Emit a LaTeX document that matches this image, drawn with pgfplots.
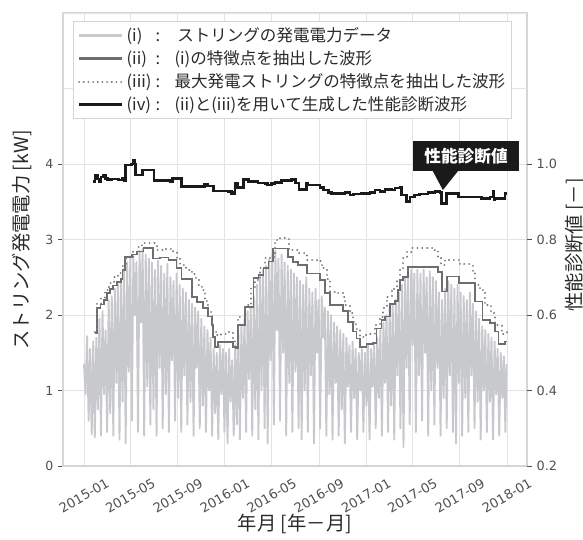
\documentclass[border=0pt]{standalone}
\usepackage{fontspec}
\setmainfont{Noto Sans CJK JP}
\newfontfamily\tickfont{DejaVu Sans}
\usepackage{pgfplots}
\pgfplotsset{compat=1.18}
\definecolor{rawgray}{HTML}{C8C9CC}
\definecolor{stepgray}{HTML}{6E6E6E}
\definecolor{dotgray}{HTML}{7A7A7A}
\definecolor{diag}{HTML}{1A1A1A}
\definecolor{gridc}{HTML}{E3E3E3}
\definecolor{spinec}{HTML}{D5D5D5}
\definecolor{tickc}{HTML}{505050}
\definecolor{labc}{HTML}{2A2A2A}
\newcommand\lgd[2]{\makebox[1.75em][l]{#1}\makebox[1.15em][l]{:}#2}
\begin{document}
\begin{tikzpicture}
\useasboundingbox (-47.25pt,-55.5pt) rectangle (390pt,349.5pt);
\begin{axis}[
  scale only axis, width=348pt, height=339.75pt,
  xmin=-54.4, xmax=1148, ymin=0, ymax=6,
  xtick={0,120,243,365,486,609,731,851,974,1096},
  xticklabels={2015-01,2015-05,2015-09,2016-01,2016-05,2016-09,2017-01,2017-05,2017-09,2018-01},
  ytick={0,1,2,3,4},
  extra y ticks={5,6}, extra y tick labels={},
  extra y tick style={grid=major, major tick length=0pt},
  grid=major, grid style={gridc, line width=0.6pt},
  axis line style={spinec, line width=0.8pt},
  tick align=outside, ytick pos=left,
  xtick style={draw=none},
  ytick style={tickc, line width=0.6pt},
  major tick length=3.75pt,
  /pgf/number format/assume math mode=true,
  yticklabel style={font=\tickfont\fontsize{9.4}{11}\selectfont, text=tickc},
  xticklabel style={font=\tickfont\fontsize{9.8}{11}\selectfont, text=tickc, rotate=30, anchor=center},
  xticklabel shift=18.5pt,
  xlabel={年月 [年－月]},
  xlabel style={at={(axis description cs:0.5,-0.128)}, anchor=center, font=\fontsize{14.5}{16}\selectfont, text=labc},
  ylabel={ストリング発電電力 [kW]},
  ylabel style={at={(axis description cs:-0.0884,0.499)}, anchor=center, font=\fontsize{14.5}{16}\selectfont, text=labc},
]
\addplot[rawgray, line width=1.4pt, line join=round] coordinates {
(0,1.35)(4,0.95)(8,1.72)(12,0.60)(16,1.55)(20,0.42)(24,1.65)(28,0.38)(32,1.70)(36,0.75)
(40,1.95)(44,0.40)(48,2.05)(52,0.95)(56,1.80)(60,0.45)(64,2.20)(68,0.70)(72,2.25)(76,0.40)
(80,2.35)(84,1.10)(88,2.40)(92,0.35)(96,2.45)(100,0.85)(104,2.60)(108,0.30)(112,2.70)(116,1.25)
(120,2.75)(124,0.60)(128,2.78)(132,2.00)(136,2.70)(140,0.45)(144,2.85)(148,1.90)(152,2.88)(156,0.40)
(160,2.80)(164,1.05)(168,2.75)(172,0.55)(176,2.70)(180,0.75)(184,2.60)(188,0.40)(192,2.72)(196,1.30)
(200,2.65)(204,0.50)(208,2.55)(212,0.95)(216,2.68)(220,0.45)(224,2.50)(228,1.40)(232,2.45)(236,0.60)
(240,2.55)(244,0.90)(248,2.40)(252,0.45)(256,2.35)(260,1.20)(264,2.30)(268,0.55)(272,2.20)(276,0.85)
(280,2.15)(284,0.40)(288,2.10)(292,1.30)(296,2.05)(300,0.50)(304,1.95)(308,0.80)(312,1.85)(316,0.45)
(320,1.80)(324,1.00)(328,1.70)(332,0.40)(336,1.55)(340,0.70)(344,1.50)(348,0.35)(352,1.60)(356,0.95)
(360,1.55)(364,0.45)(368,1.50)(372,0.30)(376,1.55)(380,0.85)(384,1.40)(388,0.40)(392,1.60)(396,0.55)
(400,1.75)(404,0.35)(408,1.85)(412,0.90)(416,1.95)(420,0.45)(424,2.05)(428,1.15)(432,2.10)(436,0.40)
(440,2.25)(444,0.75)(448,2.40)(452,0.35)(456,2.50)(460,1.00)(464,2.60)(468,0.50)(472,2.65)(476,0.30)
(480,2.75)(484,1.40)(488,2.80)(492,0.55)(496,2.85)(500,1.80)(504,2.75)(508,0.60)(512,2.80)(516,1.50)
(520,2.70)(524,0.40)(528,2.65)(532,1.10)(536,2.60)(540,0.45)(544,2.55)(548,1.25)(552,2.50)(556,0.50)
(560,2.45)(564,0.35)(568,2.40)(572,1.00)(576,2.50)(580,0.45)(584,2.35)(588,1.20)(592,2.30)(596,0.30)
(600,2.35)(604,1.50)(608,2.20)(612,0.50)(616,2.25)(620,1.70)(624,2.10)(628,0.40)(632,2.05)(636,0.95)
(640,2.00)(644,0.35)(648,1.90)(652,1.10)(656,1.85)(660,0.40)(664,1.80)(668,0.75)(672,1.75)(676,0.30)
(680,1.70)(684,1.05)(688,1.60)(692,0.45)(696,1.65)(700,0.90)(704,1.55)(708,0.35)(712,1.50)(716,1.00)
(720,1.55)(724,0.45)(728,1.50)(732,0.80)(736,1.60)(740,0.35)(744,1.55)(748,1.05)(752,1.60)(756,0.50)
(760,1.70)(764,0.90)(768,1.80)(772,0.40)(776,1.90)(780,1.10)(784,2.00)(788,0.45)(792,2.10)(796,0.80)
(800,2.15)(804,0.35)(808,2.20)(812,1.20)(816,2.30)(820,0.50)(824,2.40)(828,0.25)(832,2.50)(836,1.30)
(840,2.55)(844,0.55)(848,2.60)(852,1.60)(856,2.55)(860,0.45)(864,2.60)(868,1.20)(872,2.55)(876,0.60)
(880,2.60)(884,1.50)(888,2.50)(892,0.40)(896,2.58)(900,1.00)(904,2.50)(908,0.55)(912,2.45)(916,1.30)
(920,2.30)(924,0.40)(928,2.20)(932,0.90)(936,2.35)(940,0.50)(944,2.45)(948,1.20)(952,2.40)(956,0.45)
(960,2.35)(964,0.30)(968,2.40)(972,1.10)(976,2.30)(980,0.40)(984,2.25)(988,0.90)(992,2.20)(996,0.45)
(1000,2.30)(1004,1.20)(1008,2.15)(1012,0.50)(1016,2.05)(1020,0.85)(1024,1.95)(1028,0.35)(1032,1.85)(1036,1.00)
(1040,1.80)(1044,0.45)(1048,1.75)(1052,0.85)(1056,1.70)(1060,0.35)(1064,1.65)(1068,0.95)(1072,1.55)(1076,0.40)
(1080,1.50)(1084,0.90)(1088,1.45)(1092,0.45)(1095,1.35)
};
\addplot[stepgray, line width=1.3pt, const plot] coordinates {
(28,1.76)(34,2.09)(43,2.14)(52,2.20)(60,2.29)(67,2.34)(76,2.39)(85,2.44)(95,2.48)(100,2.60)
(106,2.77)(124,2.80)(137,2.84)(154,2.89)(178,2.75)(197,2.76)(219,2.73)(240,2.62)(253,2.48)(279,2.24)
(292,2.17)(309,2.09)(322,1.98)(331,1.87)(335,1.71)(339,1.58)(348,1.64)(387,1.58)(394,1.56)(400,1.87)
(417,2.11)(439,2.49)(452,2.53)(465,2.62)(478,2.71)(490,2.88)(529,2.77)(542,2.70)(555,2.66)(577,2.55)
(611,2.46)(624,2.29)(637,2.13)(672,2.05)(685,1.91)(698,1.78)(706,1.69)(715,1.58)(732,1.62)(749,1.63)
(758,1.82)(771,1.93)(780,1.98)(793,2.15)(806,2.19)(814,2.33)(819,2.46)(827,2.50)(840,2.64)(918,2.57)
(927,2.31)(941,2.51)(972,2.42)(1013,2.18)(1033,1.93)(1052,1.89)(1065,1.78)(1074,1.62)(1091,1.65)(1095,1.65)
};
\addplot[dotgray, line width=1.5pt, line cap=round, dash pattern=on 0.1pt off 3.6pt, const plot] coordinates {
(28,1.78)(33,2.15)(45,2.22)(55,2.33)(66,2.42)(78,2.50)(88,2.55)(100,2.65)(108,2.77)(128,2.84)
(140,2.90)(150,2.95)(188,2.86)(205,2.88)(231,2.84)(240,2.75)(250,2.66)(265,2.60)(280,2.54)(290,2.47)
(297,2.40)(305,2.33)(313,2.18)(322,2.04)(331,1.91)(335,1.78)(343,1.73)(356,1.75)(374,1.77)(387,1.69)
(391,1.62)(400,1.98)(417,2.13)(434,2.37)(443,2.46)(456,2.62)(469,2.75)(482,2.77)(495,2.99)(508,3.02)
(530,2.86)(555,2.82)(577,2.73)(603,2.71)(616,2.62)(629,2.48)(637,2.31)(650,2.29)(672,2.24)(676,2.13)
(689,2.02)(698,1.91)(706,1.82)(715,1.71)(732,1.75)(754,1.87)(767,1.98)(776,2.09)(784,2.24)(797,2.35)
(810,2.46)(819,2.62)(827,2.75)(836,2.84)(849,2.89)(909,2.86)(918,2.75)(926,2.66)(935,2.73)(974,2.67)
(1007,2.57)(1013,2.40)(1026,2.33)(1039,2.13)(1056,2.02)(1065,1.87)(1082,1.75)(1095,1.78)
};
\end{axis}
\begin{axis}[
  scale only axis, width=348pt, height=339.75pt,
  xmin=-54.4, xmax=1148, ymin=0.2, ymax=1.4,
  axis x line=none, axis y line*=right,
  axis line style={draw=none},
  ytick={0.2,0.4,0.6,0.8,1.0},
  tick align=outside, major tick length=3.75pt,
  ytick style={tickc, line width=0.6pt},
  /pgf/number format/assume math mode=true,
  yticklabel style={/pgf/number format/fixed, /pgf/number format/fixed zerofill, /pgf/number format/precision=1, font=\tickfont\fontsize{9.6}{11}\selectfont, text=tickc},
  ylabel={性能診断値 [－]},
  ylabel style={at={(axis description cs:1.1034,0.488)}, anchor=center, font=\fontsize{14.5}{16}\selectfont, text=labc},
  legend style={at={(0.0216,0.982)}, anchor=north west, draw=spinec, line width=0.8pt, fill=white,
    font=\fontsize{12.4}{14}\selectfont, text=labc, cells={anchor=west}, inner xsep=3pt, inner ysep=2.5pt,
    row sep=1.3pt},
  legend image code/.code={\draw[#1] (0pt,0pt) -- (32.6pt,0pt);},
]
\addlegendimage{rawgray, line width=2.2pt}
\addlegendentry{\lgd{(i)}{\,ストリングの発電電力データ}}
\addlegendimage{stepgray, line width=2pt}
\addlegendentry{\lgd{(ii)}{(i)の特徴点を抽出した波形}}
\addlegendimage{dotgray, line width=1.5pt, line cap=round, dash pattern=on 0.1pt off 3.4pt}
\addlegendentry{\lgd{(iii)}{最大発電ストリングの特徴点を抽出した波形}}
\addplot[diag, line width=1.9pt, const plot] coordinates {
(24,0.953)(29,0.971)(35,0.960)(39,0.953)(44,0.966)(50,0.971)(56,0.962)(61,0.959)(72,0.960)(89,0.958)
(99,0.962)(104,0.957)(108,0.997)(123,1.000)(128,1.011)(131,1.000)(134,0.971)(151,0.984)(182,0.956)(223,0.953)
(229,0.962)(252,0.940)(305,0.940)(312,0.946)(320,0.942)(335,0.929)(374,0.927)(382,0.922)(390,0.924)(391,0.949)
(398,0.938)(413,0.959)(426,0.953)(451,0.950)(469,0.949)(476,0.944)(486,0.949)(495,0.951)(512,0.956)(538,0.959)
(548,0.950)(557,0.933)(577,0.949)(581,0.944)(607,0.944)(611,0.938)(620,0.931)(633,0.924)(642,0.922)(676,0.924)
(689,0.918)(698,0.921)(719,0.922)(741,0.924)(754,0.931)(767,0.927)(780,0.933)(797,0.931)(806,0.936)(819,0.938)
(823,0.918)(836,0.900)(845,0.913)(857,0.918)(870,0.921)(892,0.924)(909,0.927)(922,0.924)(927,0.896)(940,0.922)
(961,0.922)(970,0.913)(1004,0.912)(1030,0.909)(1052,0.912)(1060,0.927)(1063,0.905)(1065,0.909)(1086,0.909)(1091,0.922)
(1095,0.922)
};
\addlegendentry{\lgd{(iv)}{(ii)と(iii)を用いて生成した性能診断波形}}
\fill[diag] (axis cs:904,0.981) -- (axis cs:969,0.981) -- (axis cs:930,0.931) -- cycle;
\node[fill=diag, text=white, minimum width=79.5pt, minimum height=22.5pt, inner sep=0pt,
  font=\fontsize{12.5}{14}\selectfont\bfseries] at (axis cs:990,1.021) {性能診断値};
\end{axis}
\end{tikzpicture}
\end{document}
